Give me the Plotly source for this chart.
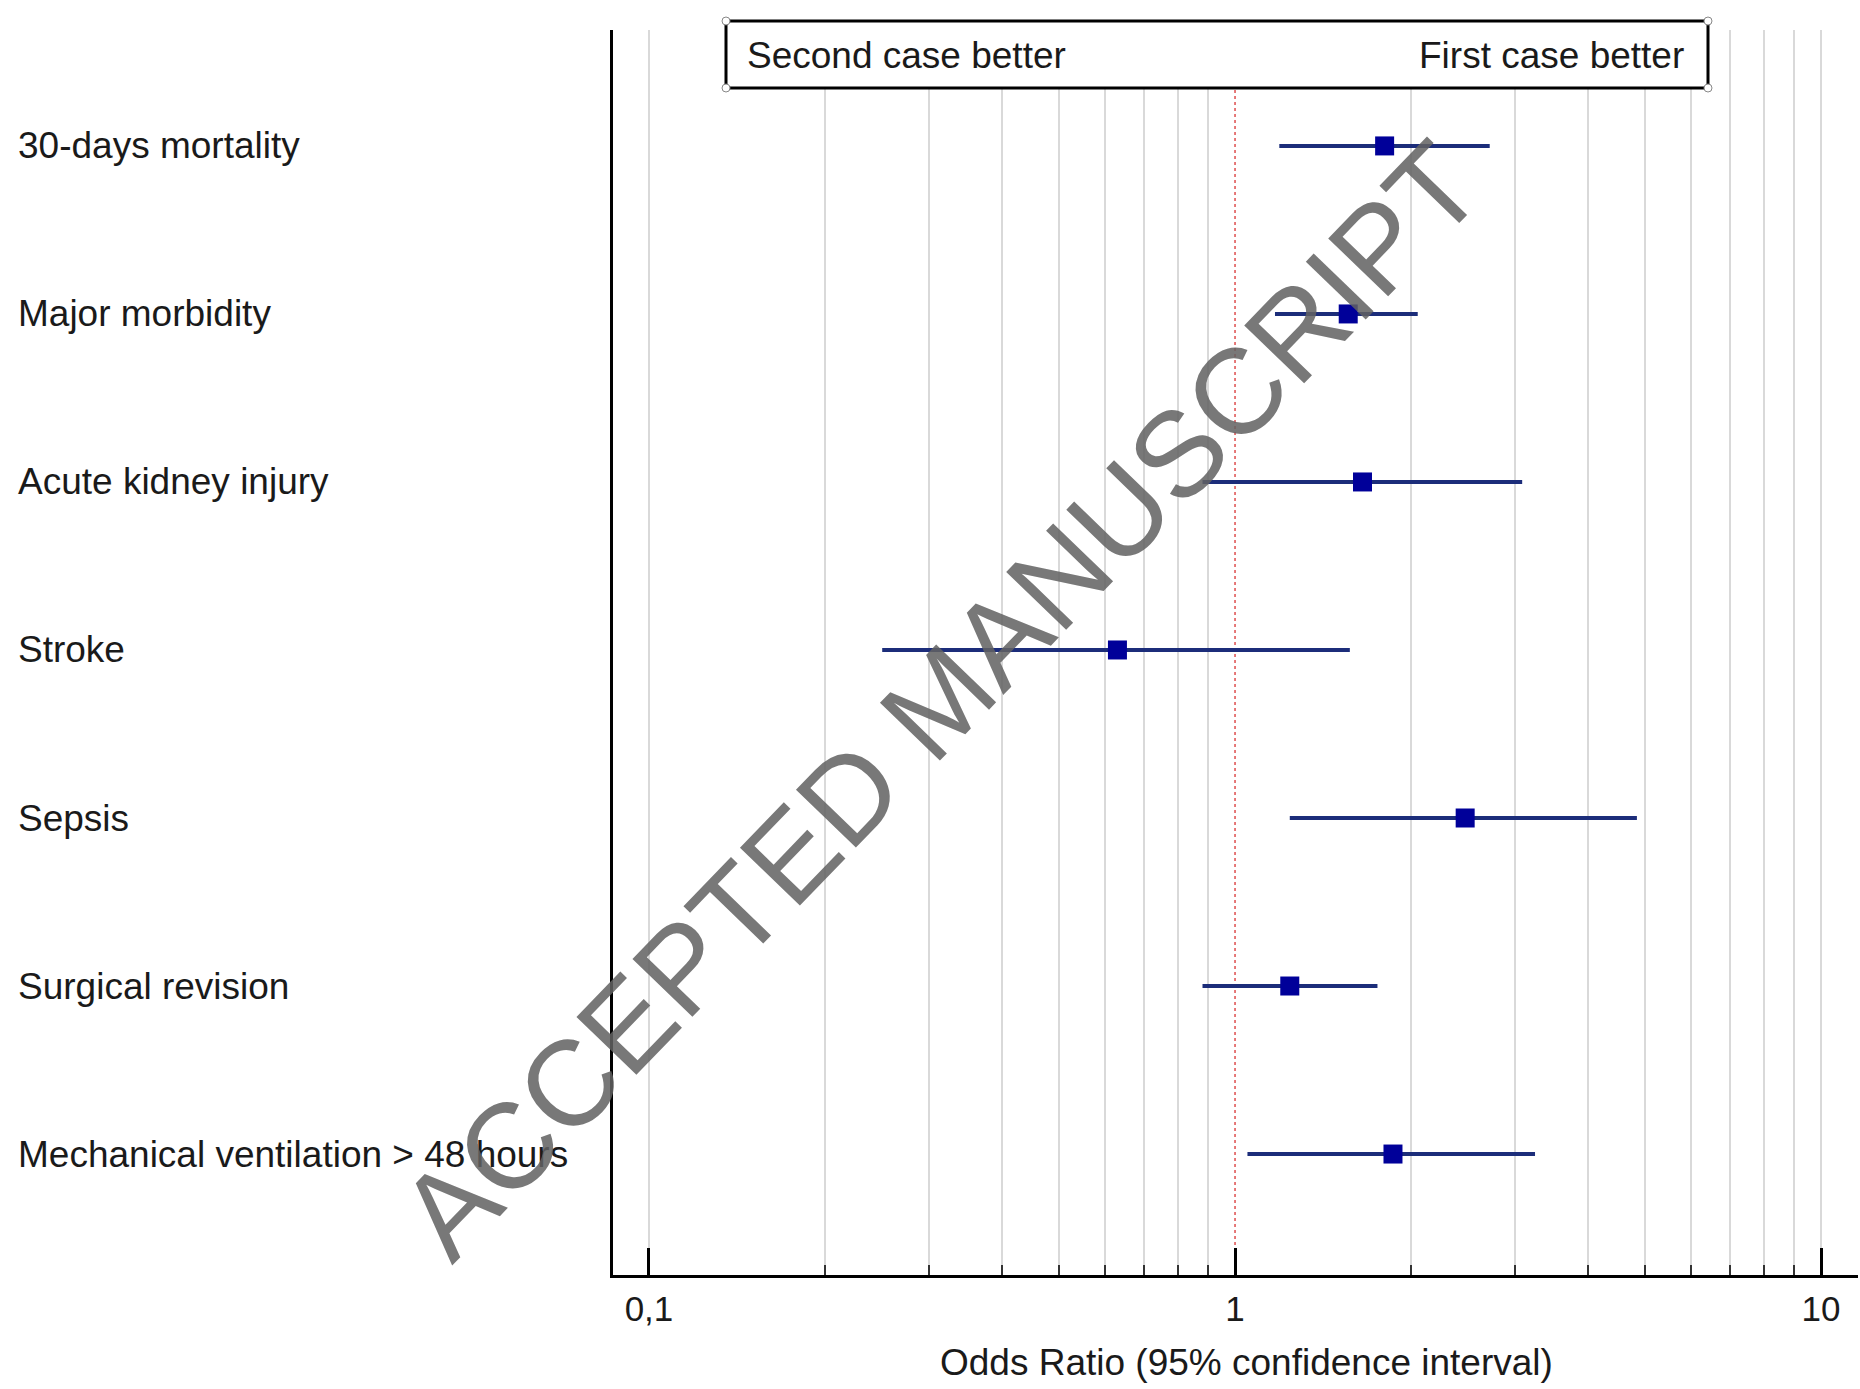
import plotly.graph_objects as go

# ---- data ----
outcomes = ["30-days mortality", "Major morbidity", "Acute kidney injury", "Stroke",
            "Sepsis", "Surgical revision", "Mechanical ventilation > 48 hours"]
odds_ratio = [1.80, 1.56, 1.65, 0.63, 2.47, 1.24, 1.86]
ci_low = [1.19, 1.17, 0.88, 0.25, 1.24, 0.88, 1.05]
ci_high = [2.72, 2.05, 3.09, 1.57, 4.85, 1.75, 3.25]
grid_vals = [0.1, 0.2, 0.3, 0.4, 0.5, 0.6, 0.7, 0.8, 0.9, 2, 3, 4, 5, 6, 7, 8, 9, 10]
major_vals = [0.1, 1, 10]
major_text = ["0,1", "1", "10"]

W, H = 1860, 1389
ML, MR, MT, MB = 613, 2, 30, 114
PW = W - ML - MR
PH = H - MT - MB
def px_x(p):
    return (p - ML) / PW
def px_y(p):
    return (H - MB - p) / PH

FONT = "Liberation Sans, Arial, sans-serif"
xr = [-1.0614, 1.063]
ypos = list(range(len(outcomes)))

fig = go.Figure()
fig.add_trace(go.Scatter(
    x=odds_ratio, y=ypos, mode="markers",
    marker=dict(symbol="square", size=19, color="#000099"),
    error_x=dict(type="data", symmetric=False,
                 array=[h - o for h, o in zip(ci_high, odds_ratio)],
                 arrayminus=[o - l for o, l in zip(odds_ratio, ci_low)],
                 width=0, thickness=4, color="#1c2d7a"),
    showlegend=False, hoverinfo="skip"))
fig.add_trace(go.Scatter(x=[1], y=[0], xaxis="x2", mode="markers",
                         marker=dict(opacity=0), showlegend=False, hoverinfo="skip"))

annotations = []
for name, y in zip(outcomes, ypos):
    annotations.append(dict(text=name, x=px_x(16), xref="paper", xanchor="left",
                            y=y, yref="y", yanchor="middle", showarrow=False,
                            font=dict(family=FONT, size=37, color="#1a1a1a")))
annotations += [
    dict(text="Second case better", x=px_x(745), xref="paper", xanchor="left",
         y=px_y(55), yref="paper", yanchor="middle", showarrow=False,
         font=dict(family=FONT, size=37, color="#1a1a1a")),
    dict(text="First case better", x=px_x(1686), xref="paper", xanchor="right",
         y=px_y(55), yref="paper", yanchor="middle", showarrow=False,
         font=dict(family=FONT, size=37, color="#1a1a1a")),
    dict(text="Odds Ratio (95% confidence interval)", x=px_x(1246), xref="paper",
         xanchor="center", y=px_y(1362), yref="paper", yanchor="middle",
         showarrow=False, font=dict(family=FONT, size=37, color="#1a1a1a")),
    dict(text="ACCEPTED MANUSCRIPT", x=px_x(940), xref="paper", xanchor="center",
         y=px_y(700), yref="paper", yanchor="middle", showarrow=False,
         textangle=-46, font=dict(family=FONT, size=121, color="rgba(98,98,98,0.86)")),
]

shapes = [
    dict(type="line", xref="x", yref="paper", x0=1, x1=1, y0=0, y1=1,
         line=dict(color="#e05a5a", width=1.6, dash="dot"), layer="below"),
    dict(type="rect", xref="paper", yref="paper", x0=px_x(726), x1=px_x(1708),
         y0=px_y(88), y1=px_y(21), fillcolor="white",
         line=dict(color="black", width=3), layer="above"),
]
for cx in (726, 1708):
    for cy in (21, 88):
        shapes.append(dict(type="circle", xref="paper", yref="paper",
                           xsizemode="pixel", ysizemode="pixel",
                           xanchor=px_x(cx), yanchor=px_y(cy),
                           x0=-4, x1=4, y0=-4, y1=4, fillcolor="white",
                           line=dict(color="#888", width=1), layer="above"))

fig.update_layout(
    width=W, height=H,
    margin=dict(l=ML, r=MR, t=MT, b=MB, pad=0),
    paper_bgcolor="white", plot_bgcolor="white",
    showlegend=False,
    xaxis=dict(type="log", range=xr, tickmode="array", tickvals=grid_vals,
               showticklabels=False, ticks="inside", ticklen=10, tickwidth=1.5,
               tickcolor="#333", showgrid=True, gridcolor="#d9d9d9", gridwidth=1.5,
               showline=True, linecolor="black", linewidth=3, zeroline=False),
    xaxis2=dict(type="log", range=xr, overlaying="x", anchor="y", side="bottom",
                tickmode="array", tickvals=major_vals, ticktext=major_text,
                ticks="inside", ticklen=27, tickwidth=3, tickcolor="black",
                showgrid=False, showline=False, zeroline=False,
                ticklabelstandoff=10,
                tickfont=dict(family=FONT, size=35, color="#1a1a1a")),
    yaxis=dict(range=[6.72, -0.69], showticklabels=False, ticks="",
               showgrid=False, zeroline=False, showline=True,
               linecolor="black", linewidth=3),
    annotations=annotations,
    shapes=shapes,
)

fig.write_html("out.html", config={"displayModeBar": False},
               post_script="document.body.style.margin='0';document.body.style.overflow='hidden';")
